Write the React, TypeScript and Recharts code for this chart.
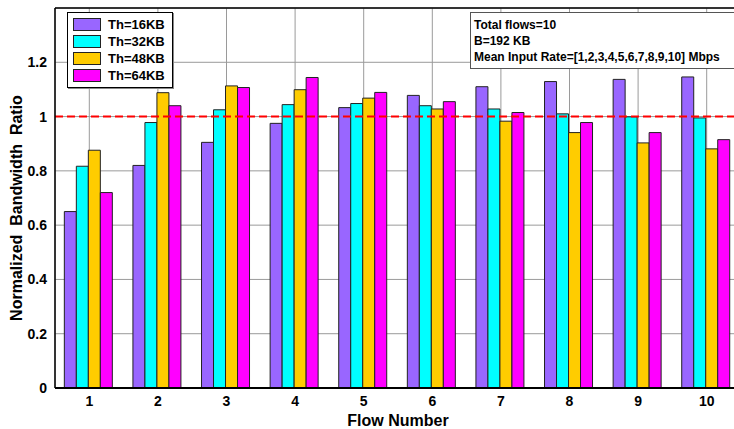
import React from "react";
import {
  Bar,
  BarChart,
  CartesianGrid,
  ReferenceLine,
  XAxis,
  YAxis,
} from "recharts";

const flows = ["1", "2", "3", "4", "5", "6", "7", "8", "9", "10"];
const th16 = [0.65, 0.82, 0.905, 0.975, 1.033, 1.078, 1.11, 1.129, 1.137, 1.146];
const th32 = [0.817, 0.978, 1.025, 1.044, 1.048, 1.04, 1.028, 1.01, 0.999, 0.995];
const th48 = [0.876, 1.088, 1.113, 1.099, 1.068, 1.028, 0.983, 0.941, 0.903, 0.881];
const th64 = [0.72, 1.04, 1.107, 1.144, 1.089, 1.055, 1.015, 0.978, 0.941, 0.915];
const yTicks = [0, 0.2, 0.4, 0.6, 0.8, 1, 1.2];

const series = [
  { key: "th16", name: "Th=16KB", color: "#9966FF" },
  { key: "th32", name: "Th=32KB", color: "#00FFFF" },
  { key: "th48", name: "Th=48KB", color: "#FFCC00" },
  { key: "th64", name: "Th=64KB", color: "#FF00FF" },
];

const data = flows.map((flow, i) => ({
  flow,
  th16: th16[i],
  th32: th32[i],
  th48: th48[i],
  th64: th64[i],
}));

const font = "'Liberation Sans', Arial, sans-serif";

// legend drawn as a plain box over the plot, like the matlab one
function LegendBox() {
  return (
    <div
      style={{
        position: "absolute",
        left: 67,
        top: 12,
        border: "1px solid #000",
        background: "#fff",
        padding: "3px 7px 3px 5px",
        boxShadow: "1px 1px 0 #888",
        fontFamily: font,
        fontWeight: "bold",
        fontSize: 13,
        color: "#000",
      }}
    >
      {series.map((s) => (
        <div key={s.key} style={{ display: "flex", alignItems: "center", height: 17 }}>
          <span
            style={{
              display: "inline-block",
              width: 26,
              height: 11,
              background: s.color,
              border: "1px solid #222",
              marginRight: 7,
            }}
          />
          <span>{s.name}</span>
        </div>
      ))}
    </div>
  );
}

export default function App() {
  return (
    <div
      style={{
        position: "absolute",
        left: 0,
        top: 0,
        width: 734,
        height: 429,
        overflow: "hidden",
        background: "#fff",
      }}
    >
      <BarChart
        width={760}
        height={429}
        data={data}
        margin={{ top: 8, right: 19, left: 0, bottom: 0 }}
        barCategoryGap="13.6%"
        barGap={0}
      >
        <CartesianGrid stroke="#9a9a9a" strokeWidth={1} />
        <XAxis
          dataKey="flow"
          height={41}
          tickLine={false}
          axisLine={{ stroke: "#000", strokeWidth: 2 }}
          tick={{ fill: "#000", fontFamily: font, fontWeight: "bold", fontSize: 14 }}
          label={{
            value: "Flow  Number",
            position: "insideBottom",
            offset: 3,
            fill: "#000",
            fontFamily: font,
            fontWeight: "bold",
            fontSize: 16,
          }}
        />
        <YAxis
          width={55}
          domain={[0, 1.4]}
          ticks={yTicks}
          interval={0}
          tickLine={false}
          axisLine={{ stroke: "#000", strokeWidth: 1.5 }}
          tick={{ fill: "#000", fontFamily: font, fontWeight: "bold", fontSize: 14 }}
        />
        <ReferenceLine y={1.4} stroke="#000" strokeWidth={1.5} />
        {series.map((s) => (
          <Bar
            key={s.key}
            dataKey={s.key}
            name={s.name}
            fill={s.color}
            stroke="#222"
            strokeWidth={1}
            isAnimationActive={false}
          />
        ))}
        <ReferenceLine y={1} stroke="#FF0000" strokeWidth={2} strokeDasharray="8 4" />
      </BarChart>
      <div
        style={{
          position: "absolute",
          left: 17,
          top: 208,
          transform: "translate(-50%, -50%) rotate(-90deg)",
          whiteSpace: "pre",
          fontFamily: font,
          fontWeight: "bold",
          fontSize: 16,
          color: "#000",
        }}
      >
        Normalized  Bandwidth  Ratio
      </div>
      <LegendBox />
      <div
        style={{
          position: "absolute",
          left: 470,
          top: 12,
          width: 270,
          height: 57,
          border: "1px solid #555",
          background: "#fff",
          boxSizing: "border-box",
          padding: "4px 0 0 3px",
          fontFamily: font,
          fontWeight: "bold",
          fontSize: 12,
          lineHeight: "16px",
          color: "#000",
        }}
      >
        <div>Total flows=10</div>
        <div>B=192 KB</div>
        <div>Mean Input Rate=[1,2,3,4,5,6,7,8,9,10] Mbps</div>
      </div>
    </div>
  );
}
